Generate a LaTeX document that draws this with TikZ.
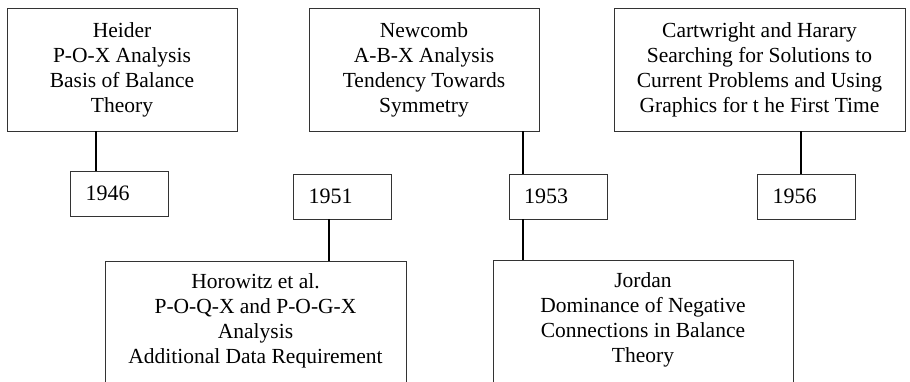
\documentclass[tikz,border=0pt]{standalone}
\usepackage{fontspec}
\setmainfont{Liberation Serif}
\newfontfamily\timelinefont{Liberation Serif}
\begin{document}
\begin{tikzpicture}[x=1pt,y=-1pt,
  panel/.style={draw=black!80, line width=0.8pt, rectangle, inner sep=0pt,
    align=center, minimum height=123pt,
    font=\timelinefont\fontsize{21.5}{25}\selectfont},
  lowpanel/.style={draw=black!80, line width=0.8pt, rectangle, inner sep=0pt,
    minimum height=170pt, anchor=north},
  paneltext/.style={inner sep=0pt, align=center, anchor=north,
    font=\timelinefont\fontsize{21.5}{25}\selectfont},
  yearbox/.style={draw=black!80, line width=0.8pt, rectangle, inner xsep=15pt,
    inner ysep=0pt, text width=68pt, align=left, minimum height=45pt,
    font=\timelinefont\fontsize{22}{25}\selectfont},
  link/.style={line width=1.2pt}]
\useasboundingbox (0,0) rectangle (910,382);
\clip (0,0) rectangle (910,382);

% upper panels
\node[panel, minimum width=230pt] (heider) at (122,69.5)
  {Heider\\P-O-X Analysis\\Basis of Balance\\Theory};
\node[panel, minimum width=230pt] (newcomb) at (424,69.5)
  {Newcomb\\A-B-X Analysis\\Tendency Towards\\Symmetry};
\node[panel, minimum width=291pt] (cartwright) at (759.5,69.5)
  {Cartwright and Harary\\Searching for Solutions to\\Current Problems and Using\\Graphics for t he First Time};

% year markers
\node[yearbox] (y1946) at (119.5,193.5) {1946};
\node[yearbox] (y1951) at (342.5,196.5) {1951};
\node[yearbox] (y1953) at (558,196.5) {1953};
\node[yearbox] (y1956) at (806.5,196.5) {1956};

% lower panels (open at the bottom edge)
\node[lowpanel, minimum width=301pt] (horowitz) at (255.5,261) {};
\node[paneltext] (horowitztext) at ([yshift=-12pt]horowitz.north)
  {Horowitz et al.\\P-O-Q-X and P-O-G-X\\Analysis\\Additional Data Requirement};
\node[lowpanel, minimum width=300pt] (jordan) at (643,260) {};
\node[paneltext] (jordantext) at ([yshift=-12pt]jordan.north)
  {Jordan\\Dominance of Negative\\Connections in Balance\\Theory};

% connector columns
\coordinate (c1) at (96,0);
\coordinate (c2) at (523,0);
\coordinate (c3) at (801,0);
\coordinate (c4) at (329,0);

\draw[link] (heider.south -| c1) -- (y1946.north -| c1);
\draw[link] (newcomb.south -| c2) -- (y1953.north -| c2);
\draw[link] (cartwright.south -| c3) -- (y1956.north -| c3);
\draw[link] (y1951.south -| c4) -- (horowitz.north -| c4);
\draw[link] (y1953.south -| c2) -- (jordan.north -| c2);
\end{tikzpicture}
\end{document}
